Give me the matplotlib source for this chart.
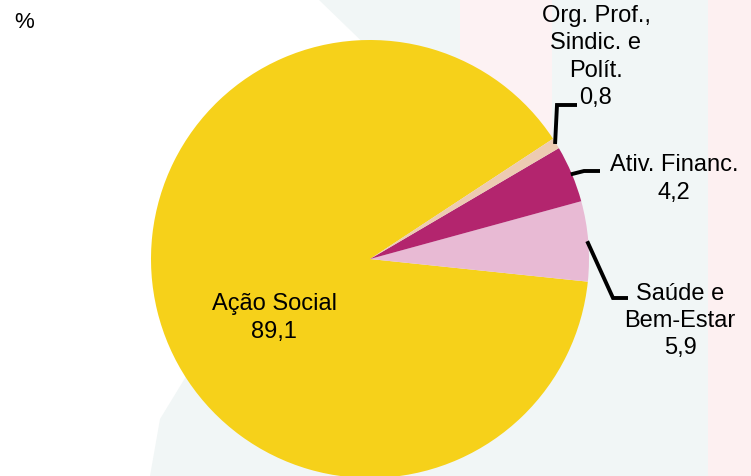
import matplotlib
matplotlib.use("Agg")
import matplotlib.pyplot as plt
from matplotlib.patches import Polygon, Rectangle
import numpy as np

# ---- data ----
categories = ["Ação Social", "Saúde e\nBem-Estar", "Ativ. Financ.", "Org. Prof.,\nSindic. e\nPolít."]
values = [89.1, 5.9, 4.2, 0.8]
value_labels = ["89,1", "5,9", "4,2", "0,8"]
colors = ["#F6D11A", "#E8BAD4", "#B3256E", "#EDCBB2"]

W, H = 751, 477
fig = plt.figure(figsize=(W / 100, H / 100), dpi=100)
fig.patch.set_facecolor("white")

def fx(px):
    return px / W

def fy(py):
    return 1 - py / H

# faint background watermark
fig.patches.append(Polygon([(fx(318), fy(0)), (fx(708), fy(0)), (fx(708), fy(477)),
                            (fx(150), fy(477)), (fx(160), fy(420)), (fx(380), fy(60))],
                           closed=True, transform=fig.transFigure,
                           facecolor="#F1F6F6", edgecolor="none", zorder=-10))
fig.patches.append(Rectangle((fx(460), fy(140)), fx(92), 140 / H, transform=fig.transFigure,
                             facecolor="#FDF2F3", edgecolor="none", zorder=-9))
fig.patches.append(Rectangle((fx(708), 0), fx(43), 1, transform=fig.transFigure,
                             facecolor="#FDF0F1", edgecolor="none", zorder=-9))

# pie axes: center (370,260) px, radius 219 px
cx, cy, R = 370, 260, 219
ax = fig.add_axes([fx(cx - R), fy(cy + R), 2 * R / W, 2 * R / H])
ax.axis("off")
ax.patch.set_alpha(0)

wedges, _ = ax.pie(values, colors=colors, startangle=33.3, counterclock=True,
                   radius=1, wedgeprops=dict(linewidth=0))
ax.set_xlim(-1, 1)
ax.set_ylim(-1, 1)
ax.set_aspect("equal")
for w in wedges:
    w.set_clip_on(False)

def d(px, py):
    return ((px - cx) / R, (cy - py) / R)

def mid_point(w, r=0.995):
    a = np.deg2rad((w.theta1 + w.theta2) / 2)
    return r * np.cos(a), r * np.sin(a)

font = dict(family=["Liberation Sans", "DejaVu Sans"], fontsize=17, color="black",
            ha="center", va="center", linespacing=1.3)

# leader lines (start at wedge middle, then elbow)
leaders = {
    3: [d(557, 106), d(577, 106)],
    2: [d(584, 172), d(600, 172)],
    1: [d(613, 299), d(628, 299)],
}
for i, pts in leaders.items():
    sx, sy = mid_point(wedges[i])
    xs = [sx] + [p[0] for p in pts]
    ys = [sy] + [p[1] for p in pts]
    ax.plot(xs, ys, color="black", lw=2.8, solid_joinstyle="miter",
            solid_capstyle="butt", clip_on=False)

# labels
label_pos = [d(274, 318), d(680, 321), d(674, 179), d(596, 57)]
for i in range(len(values)):
    x, y = label_pos[i]
    ax.text(x, y, categories[i] + "\n" + value_labels[i], clip_on=False, **font)

fig.text(fx(24), fy(22), "%", family=["Liberation Sans", "DejaVu Sans"], fontsize=16,
         ha="center", va="center")

fig.savefig("out.png", dpi=100)
